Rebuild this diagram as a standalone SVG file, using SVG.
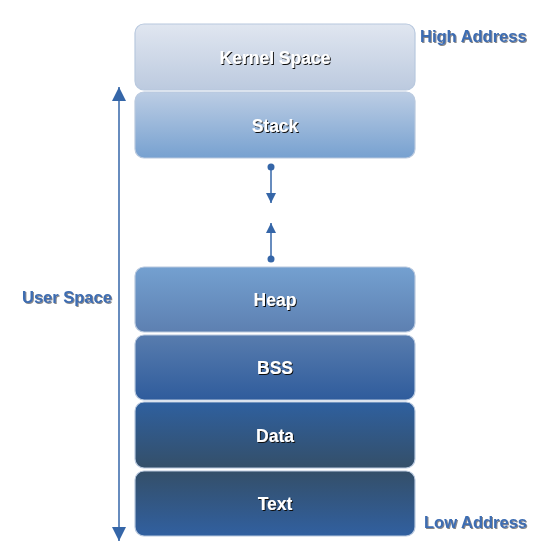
<svg xmlns="http://www.w3.org/2000/svg" width="557" height="557" viewBox="0 0 557 557">
<defs>
<linearGradient id="gK" x1="0" y1="0" x2="0" y2="1"><stop offset="0" stop-color="#e0e6f0"/><stop offset="1" stop-color="#bccadf"/></linearGradient>
<linearGradient id="gS" x1="0" y1="0" x2="0" y2="1"><stop offset="0" stop-color="#bccde4"/><stop offset="1" stop-color="#77a1d0"/></linearGradient>
<linearGradient id="gH" x1="0" y1="0" x2="0" y2="1"><stop offset="0" stop-color="#74a0d0"/><stop offset="1" stop-color="#5d80b1"/></linearGradient>
<linearGradient id="gB" x1="0" y1="0" x2="0" y2="1"><stop offset="0" stop-color="#587cae"/><stop offset="1" stop-color="#2f5c9c"/></linearGradient>
<linearGradient id="gD" x1="0" y1="0" x2="0" y2="1"><stop offset="0" stop-color="#2f609f"/><stop offset="1" stop-color="#344f69"/></linearGradient>
<linearGradient id="gT" x1="0" y1="0" x2="0" y2="1"><stop offset="0" stop-color="#344f69"/><stop offset="1" stop-color="#3160a0"/></linearGradient>
<filter id="sh" x="-10%" y="-30%" width="120%" height="160%"><feDropShadow dx="1" dy="1" stdDeviation="0.3" flood-color="#111111" flood-opacity="1"/></filter>
<filter id="sh2" x="-10%" y="-30%" width="120%" height="160%"><feDropShadow dx="1" dy="1" stdDeviation="0.5" flood-color="#555555" flood-opacity="0.7"/></filter>
<marker id="ah" viewBox="0 0 10 10" refX="10" refY="5" markerWidth="14" markerHeight="14" markerUnits="userSpaceOnUse" orient="auto"><path d="M0,0 L10,5 L0,10 z" fill="#3566a8"/></marker>
<marker id="ahs" viewBox="0 0 10 10" refX="10" refY="5" markerWidth="10" markerHeight="10" markerUnits="userSpaceOnUse" orient="auto"><path d="M0,0 L10,5 L0,10 z" fill="#3566a8"/></marker>
</defs>
<style>
.box{stroke:#b8c8de;stroke-width:1.2}
.lbl{font-family:"Liberation Sans",Arial,sans-serif;font-weight:bold;font-size:17.5px;fill:#ffffff;text-anchor:middle;filter:url(#sh)}
.side{font-family:"Liberation Sans",Arial,sans-serif;font-weight:bold;font-size:16.5px;fill:#3d6db2;filter:url(#sh2)}
.ln{stroke:#3566a8;fill:none}
</style>
<g id="kernel"><rect class="box" x="135" y="24" width="280" height="66" rx="9" fill="url(#gK)"/><text class="lbl" x="275" y="64">Kernel Space</text></g>
<g id="stack"><rect class="box" x="135" y="92" width="280" height="66" rx="9" fill="url(#gS)"/><text class="lbl" x="275" y="132">Stack</text></g>
<g id="heap"><rect class="box" x="135" y="267" width="280" height="65" rx="9" fill="url(#gH)"/><text class="lbl" x="275" y="306">Heap</text></g>
<g id="bss"><rect class="box" x="135" y="335" width="280" height="65" rx="9" fill="url(#gB)"/><text class="lbl" x="275" y="374">BSS</text></g>
<g id="data"><rect class="box" x="135" y="402" width="280" height="66" rx="9" fill="url(#gD)"/><text class="lbl" x="275" y="442">Data</text></g>
<g id="text"><rect class="box" x="135" y="471" width="280" height="65" rx="9" fill="url(#gT)"/><text class="lbl" x="275" y="510">Text</text></g>
<g id="labels">
<text class="side" x="420" y="42">High Address</text>
<text class="side" x="22" y="303">User Space</text>
<text class="side" x="424" y="528">Low Address</text>
</g>
<g id="connectors">
<line class="ln" x1="119" y1="300" x2="119" y2="87" stroke-width="1.5" marker-end="url(#ah)"/>
<line class="ln" x1="119" y1="300" x2="119" y2="541" stroke-width="1.5" marker-end="url(#ah)"/>
<circle cx="271" cy="167" r="3.5" fill="#3566a8"/>
<line class="ln" x1="271" y1="167" x2="271" y2="203" stroke-width="1.5" marker-end="url(#ahs)"/>
<circle cx="271" cy="259" r="3.5" fill="#3566a8"/>
<line class="ln" x1="271" y1="259" x2="271" y2="223" stroke-width="1.5" marker-end="url(#ahs)"/>
</g>
</svg>
